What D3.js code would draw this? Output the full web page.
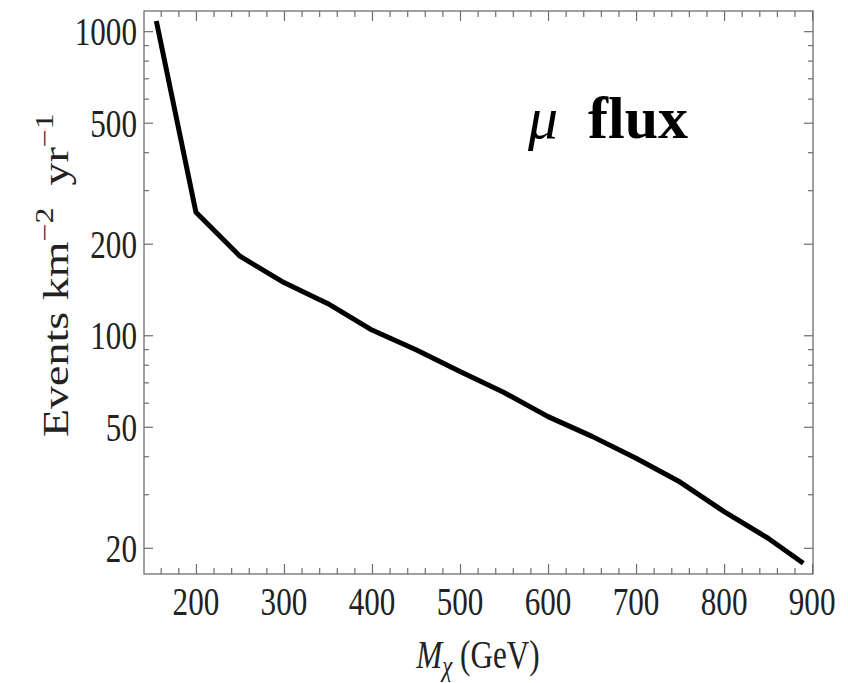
<!DOCTYPE html>
<html><head><meta charset="utf-8">
<script src="https://cdn.jsdelivr.net/npm/d3@7"></script>
<style>html,body{margin:0;padding:0;background:#fff;}</style>
</head><body>
<svg id="c" width="848" height="683"></svg>
<script>
const massGeV = [155, 200, 250, 300, 350, 400, 450, 500, 550, 600, 650, 700, 750, 800, 850, 890];
const events  = [1080, 254, 182, 149, 127, 104, 89.6, 76, 64.8, 54, 46.5, 39.4, 32.9, 26.3, 21.5, 17.8];
const xMajorTicks = [200, 300, 400, 500, 600, 700, 800, 900];
const yMajorTicks = [20, 50, 100, 200, 500, 1000];
const xLabel = "M";
const titleMu = "μ";
const titleText = "flux";

const svg = d3.select("#c");
const L = 144, R = 813, T = 11, B = 574;
const x = d3.scaleLinear().domain([141, 901]).range([L, R]);
const y = d3.scaleLog().domain([16.4, 1165]).range([B, T]);
const font = "'Liberation Serif','Times New Roman',serif";
const frameCol = "#6e6e6e";

const xMinor = d3.range(160, 901, 20).filter(v => !xMajorTicks.includes(v));
const yMinor = [];
[10, 100, 1000].forEach(d => { for (let k = 1; k < 10; k++) { const v = k * d; if (v > 16.4 && v < 1165 && !yMajorTicks.includes(v)) yMinor.push(v); } });

// frame
svg.append("rect").attr("x", L).attr("y", T).attr("width", R - L).attr("height", B - T)
  .attr("fill", "none").attr("stroke", frameCol).attr("stroke-width", 1.3);

// axes using d3 axis generators (inward ticks)
function styleAxis(g) {
  g.select(".domain").remove();
  g.selectAll(".tick line").attr("stroke", frameCol).attr("stroke-width", 1.2);
  g.selectAll(".tick text").remove();
}
svg.append("g").attr("transform", `translate(0,${B})`)
  .call(d3.axisTop(x).tickValues(xMajorTicks).tickSize(10)).call(styleAxis);
svg.append("g").attr("transform", `translate(0,${B})`)
  .call(d3.axisTop(x).tickValues(xMinor).tickSize(6)).call(styleAxis);
svg.append("g").attr("transform", `translate(0,${T})`)
  .call(d3.axisBottom(x).tickValues(xMajorTicks).tickSize(10)).call(styleAxis);
svg.append("g").attr("transform", `translate(0,${T})`)
  .call(d3.axisBottom(x).tickValues(xMinor).tickSize(6)).call(styleAxis);
svg.append("g").attr("transform", `translate(${L},0)`)
  .call(d3.axisRight(y).tickValues(yMajorTicks).tickSize(9)).call(styleAxis);
svg.append("g").attr("transform", `translate(${L},0)`)
  .call(d3.axisRight(y).tickValues(yMinor).tickSize(5)).call(styleAxis);
svg.append("g").attr("transform", `translate(${R},0)`)
  .call(d3.axisLeft(y).tickValues(yMajorTicks).tickSize(9)).call(styleAxis);
svg.append("g").attr("transform", `translate(${R},0)`)
  .call(d3.axisLeft(y).tickValues(yMinor).tickSize(5)).call(styleAxis);

// tick labels (compressed serif as in reference)
const sx = 0.76;
xMajorTicks.forEach(v => {
  svg.append("text").attr("transform", `translate(${x(v)},615) scale(${sx},1)`)
    .attr("text-anchor", "middle").attr("font-family", font).attr("font-size", 41)
    .attr("fill", "#222").text(v);
});
yMajorTicks.forEach(v => {
  svg.append("text").attr("transform", `translate(137,${y(v) + 14}) scale(${sx},1)`)
    .attr("text-anchor", "end").attr("font-family", font).attr("font-size", 41)
    .attr("fill", "#222").text(v);
});

// x axis label
const xl = svg.append("text").attr("transform", `translate(478,668) scale(${sx},1)`)
  .attr("text-anchor", "middle").attr("font-family", font).attr("font-size", 41).attr("fill", "#222");
xl.append("tspan").attr("font-style", "italic").text(xLabel);
xl.append("tspan").attr("font-style", "italic").attr("font-size", 30).attr("dy", 8).text("χ");
xl.append("tspan").attr("dy", -8).text(" (GeV)");

// y axis label
const yl = svg.append("text").attr("transform", `translate(68,437) rotate(-90) scale(1,${sx})`)
  .attr("text-anchor", "start").attr("font-family", font).attr("font-size", 46).attr("fill", "#222");
yl.append("tspan").text("Events km");
yl.append("tspan").attr("font-size", 32).attr("dy", -20).text("−2");
yl.append("tspan").attr("dy", 20).attr("dx", 22).text("yr");
yl.append("tspan").attr("font-size", 32).attr("dy", -20).text("−1");

// title
const tt = svg.append("text").attr("x", 528).attr("y", 138)
  .attr("font-family", font).attr("font-size", 60).attr("fill", "#000");
tt.append("tspan").attr("font-style", "italic").text(titleMu);
tt.append("tspan").attr("x", 588).attr("font-weight", "bold").text(titleText);

// curve
const line = d3.line().x((d, i) => x(massGeV[i])).y(d => y(d));
svg.append("path").datum(events).attr("d", line)
  .attr("fill", "none").attr("stroke", "#000").attr("stroke-width", 5)
  .attr("stroke-linejoin", "round").attr("stroke-linecap", "butt");
</script>
</body></html>
